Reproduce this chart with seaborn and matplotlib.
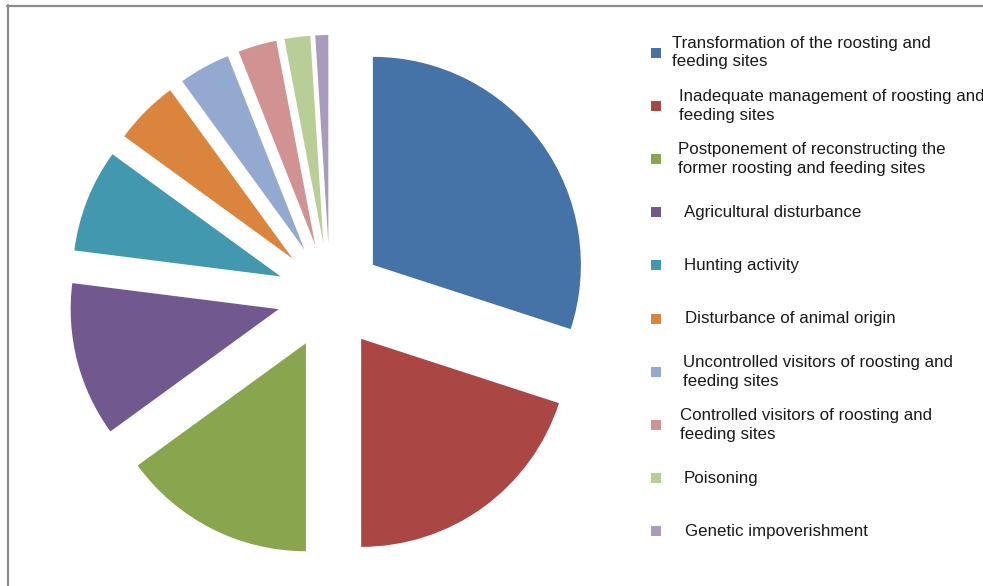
import matplotlib
matplotlib.use("Agg")
import matplotlib.pyplot as plt
import seaborn as sns
from matplotlib.lines import Line2D
from matplotlib.patches import Rectangle

categories = [
    "Transformation of the roosting and\nfeeding sites",
    "Inadequate management of roosting and\nfeeding sites",
    "Postponement of reconstructing the\nformer roosting and feeding sites",
    "Agricultural disturbance",
    "Hunting activity",
    "Disturbance of animal origin",
    "Uncontrolled visitors of roosting and\nfeeding sites",
    "Controlled visitors of roosting and\nfeeding sites",
    "Poisoning",
    "Genetic impoverishment",
]
shares = [30, 20, 15, 12, 8, 5, 4, 3, 2, 1]
colors = ["#4572A7", "#AA4643", "#89A54E", "#71588F", "#4198AF",
          "#DB843D", "#93A9CF", "#D19392", "#B9CD96", "#A99BBD"]

sns.set_theme(style="white")
plt.rcParams["font.family"] = ["Liberation Sans", "DejaVu Sans"]

W, H = 983, 586
fig = plt.figure(figsize=(W / 100, H / 100), dpi=100)
ax = fig.add_axes([0, 0, 1, 1])

R = 208
ax.pie(shares, colors=colors, startangle=90, counterclock=False,
       center=(330, H - 296), radius=R, explode=[53] * len(shares),
       wedgeprops=dict(linewidth=0))
ax.set_xlim(0, W)
ax.set_ylim(0, H)
ax.set_aspect("equal")
ax.axis("off")

# legend (manual layout, evenly spaced)
text_x = [672, 679, 678, 684, 684, 685, 683, 680, 684, 685]
for i, (lab, col) in enumerate(zip(categories, colors)):
    yc = H - (52.5 + i * 53.2)
    ax.add_patch(Rectangle((650.5, yc - 5), 10, 10, facecolor=col, edgecolor="none"))
    ax.text(text_x[i], yc, lab, fontsize=12.2, color="#1a1a1a",
            va="center", ha="left", linespacing=1.33)

# frame lines (top and left)
fig.add_artist(Line2D([7 / W, 1], [1 - 5.5 / H, 1 - 5.5 / H], transform=fig.transFigure,
                      color="#8c8c8c", linewidth=1.6))
fig.add_artist(Line2D([7.5 / W, 7.5 / W], [0, 1 - 5 / H], transform=fig.transFigure,
                      color="#8c8c8c", linewidth=1.6))

fig.savefig("out.png", dpi=100, facecolor="white")
